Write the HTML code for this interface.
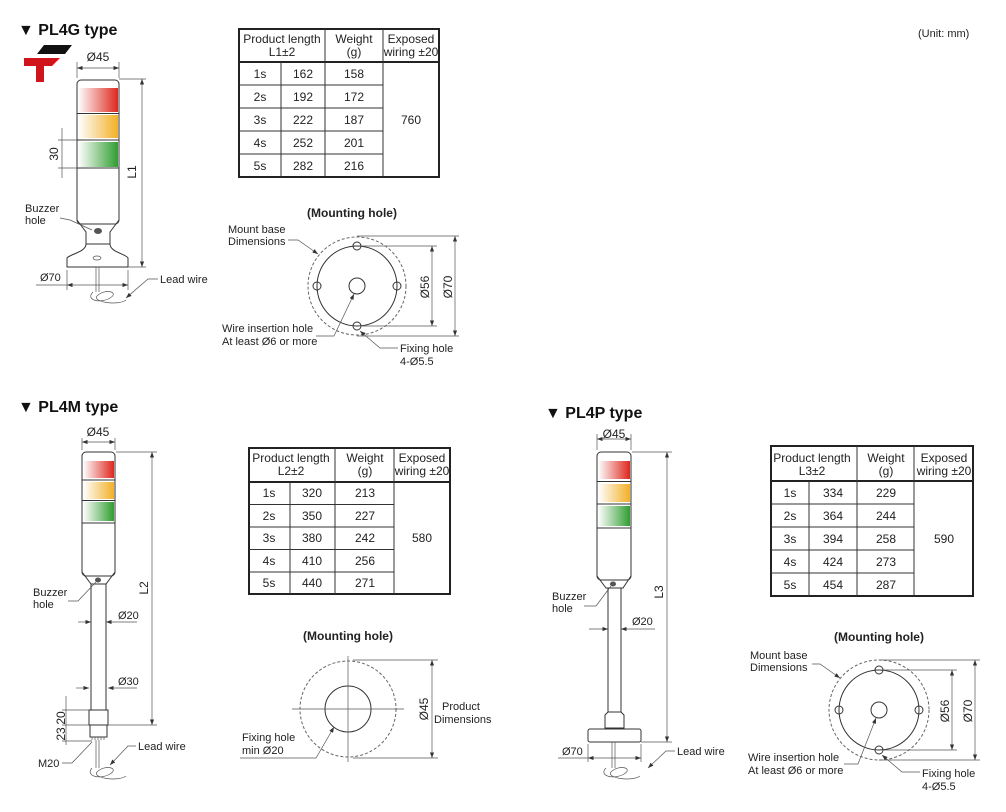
<!DOCTYPE html>
<html><head><meta charset="utf-8"><style>
html,body{margin:0;padding:0;background:#fff;}
svg{display:block;font-family:"Liberation Sans",sans-serif;}
.t{font-size:11px;fill:#222;}
.c{font-size:12px;fill:#222;text-anchor:middle;}
.h{font-size:16px;font-weight:bold;fill:#111;}
.ln{stroke:#333;stroke-width:1;fill:none;}
.thin{stroke:#555;stroke-width:0.7;fill:none;}
.tb{stroke:#333;stroke-width:1;fill:none;}
.tbo{stroke:#222;stroke-width:2;fill:none;}
.dash{stroke:#666;stroke-width:1;fill:none;stroke-dasharray:3,2;}
</style></head><body>
<svg width="1006" height="812" viewBox="0 0 1006 812" xmlns="http://www.w3.org/2000/svg">
<defs>
<linearGradient id="r" x1="0" x2="1"><stop offset="0" stop-color="#fff"/><stop offset="1" stop-color="#e0261c"/></linearGradient>
<linearGradient id="y" x1="0" x2="1"><stop offset="0" stop-color="#fff"/><stop offset="1" stop-color="#f3b024"/></linearGradient>
<linearGradient id="g" x1="0" x2="1"><stop offset="0" stop-color="#fff"/><stop offset="1" stop-color="#2f9e2f"/></linearGradient>
<marker id="a" markerWidth="8" markerHeight="6" refX="8" refY="3" orient="auto"><path d="M0,0L8,3L0,6z" fill="#333"/></marker>
<marker id="b" markerWidth="8" markerHeight="6" refX="0" refY="3" orient="auto"><path d="M8,0L0,3L8,6z" fill="#333"/></marker>
</defs>

<!-- Titles -->
<text x="18" y="35" class="h">▼ PL4G type</text>
<text x="18" y="412" class="h">▼ PL4M type</text>
<text x="545" y="418" class="h">▼ PL4P type</text>
<text x="918" y="37" class="t">(Unit: mm)</text>

<!-- logo -->
<polygon points="44,45 72,45 65,54 37,54" fill="#111"/>
<polygon points="24,58 60,58 52,66 44,66 44,82 36,82 36,66 24,66" fill="#d0141c"/>

<!-- ===== PL4G tower ===== -->
<g>
<rect x="77" y="80" width="42" height="144" rx="4" class="ln" fill="#fff"/>
<rect x="78" y="88" width="40" height="24" fill="url(#r)"/>
<rect x="78" y="115" width="40" height="23" fill="url(#y)"/>
<rect x="78" y="142" width="40" height="25" fill="url(#g)"/>
<line x1="77" y1="113.5" x2="119" y2="113.5" class="ln"/>
<line x1="77" y1="140" x2="119" y2="140" class="ln"/>
<line x1="77" y1="168" x2="119" y2="168" class="ln"/>
<path d="M77,220 L86,232 L86,244 L110,244 L110,232 L119,220" class="ln" fill="#fff"/>
<ellipse cx="98" cy="231" rx="4" ry="3" fill="#555"/>
<path d="M86,244 C86,252 70,254 67,258 L67,267 L128,267 L128,258 C126,254 110,252 110,244" class="ln" fill="#fff"/>
<ellipse cx="97" cy="258" rx="4" ry="2" class="thin"/>
<path d="M96,267 L96,292 M99,267 L99,292 M93,292 C85,300 100,304 110,298 C120,292 105,288 97,296 C92,302 118,306 126,300" class="thin"/>
<!-- dims -->
<line x1="77" y1="78" x2="77" y2="62" class="thin"/><line x1="119" y1="78" x2="119" y2="62" class="thin"/>
<line x1="77" y1="68" x2="119" y2="68" class="thin" marker-start="url(#b)" marker-end="url(#a)"/>
<text x="98" y="61" class="c" font-size="11">Ø45</text>
<line x1="119" y1="79" x2="146" y2="79" class="thin"/><line x1="128" y1="267" x2="146" y2="267" class="thin"/>
<line x1="142" y1="79" x2="142" y2="267" class="thin" marker-start="url(#b)" marker-end="url(#a)"/>
<text transform="translate(136,172) rotate(-90)" class="c" font-size="11">L1</text>
<line x1="58" y1="140" x2="77" y2="140" class="thin"/><line x1="58" y1="168" x2="77" y2="168" class="thin"/>
<line x1="62" y1="128" x2="62" y2="178" class="thin"/>
<text transform="translate(58,154) rotate(-90)" class="c" font-size="11">30</text>
<text x="25" y="212" class="t">Buzzer</text><text x="25" y="224" class="t">hole</text>
<path d="M60,218 L70,220 L92,230" class="thin"/>
<line x1="67" y1="270" x2="67" y2="290" class="thin"/><line x1="128" y1="270" x2="128" y2="290" class="thin"/>
<line x1="36" y1="285" x2="67" y2="285" class="thin"/>
<line x1="67" y1="285" x2="128" y2="285" class="thin" marker-start="url(#b)" marker-end="url(#a)"/>
<text x="40" y="281" class="t">Ø70</text>
<text x="160" y="283" class="t">Lead wire</text>
<path d="M158,279 L148,279 L126,298" class="thin" marker-end="url(#a)"/>
</g>

<!-- ===== Table 1 ===== -->
<g>
<rect x="239" y="29" width="200" height="148" class="tbo"/>
<line x1="239" y1="62" x2="439" y2="62" class="tbo"/>
<line x1="281" y1="62" x2="281" y2="177" class="tb"/>
<line x1="325" y1="29" x2="325" y2="177" class="tb"/>
<line x1="383" y1="29" x2="383" y2="177" class="tb"/>
<line x1="239" y1="85" x2="383" y2="85" class="tb"/><line x1="239" y1="108" x2="383" y2="108" class="tb"/>
<line x1="239" y1="131" x2="383" y2="131" class="tb"/><line x1="239" y1="154" x2="383" y2="154" class="tb"/>
<text x="282" y="43" class="c">Product length</text><text x="282" y="56" class="c">L1±2</text>
<text x="354" y="43" class="c">Weight</text><text x="354" y="56" class="c">(g)</text>
<text x="411" y="43" class="c" font-size="11">Exposed</text><text x="411" y="56" class="c" font-size="11">wiring ±20</text>
<text x="260" y="78" class="c">1s</text><text x="303" y="78" class="c">162</text><text x="354" y="78" class="c">158</text>
<text x="260" y="101" class="c">2s</text><text x="303" y="101" class="c">192</text><text x="354" y="101" class="c">172</text>
<text x="260" y="124" class="c">3s</text><text x="303" y="124" class="c">222</text><text x="354" y="124" class="c">187</text>
<text x="260" y="147" class="c">4s</text><text x="303" y="147" class="c">252</text><text x="354" y="147" class="c">201</text>
<text x="260" y="170" class="c">5s</text><text x="303" y="170" class="c">282</text><text x="354" y="170" class="c">216</text>
<text x="411" y="124" class="c">760</text>
</g>

<!-- ===== Mounting hole 1 ===== -->
<g>
<text x="352" y="217" class="c" font-size="14" font-weight="bold">(Mounting hole)</text>
<circle cx="357" cy="286" r="49" class="dash"/>
<circle cx="357" cy="286" r="40" class="ln"/>
<circle cx="357" cy="286" r="8" class="ln" stroke-width="1.5"/>
<circle cx="357" cy="246" r="4" class="ln" fill="#fff" stroke-width="1.5"/>
<circle cx="357" cy="326" r="4" class="ln" fill="#fff" stroke-width="1.5"/>
<circle cx="317" cy="286" r="4" class="ln" fill="#fff" stroke-width="1.5"/>
<circle cx="397" cy="286" r="4" class="ln" fill="#fff" stroke-width="1.5"/>
<line x1="361" y1="246" x2="437" y2="246" class="thin"/><line x1="361" y1="326" x2="437" y2="326" class="thin"/>
<line x1="432" y1="246" x2="432" y2="326" class="thin" marker-start="url(#b)" marker-end="url(#a)"/>
<line x1="357" y1="236" x2="459" y2="236" class="thin"/><line x1="357" y1="336" x2="459" y2="336" class="thin"/>
<line x1="455" y1="236" x2="455" y2="336" class="thin" marker-start="url(#b)" marker-end="url(#a)"/>
<text transform="translate(429,287) rotate(-90)" class="c" font-size="11">Ø56</text>
<text transform="translate(452,287) rotate(-90)" class="c" font-size="11">Ø70</text>
<text x="228" y="233" class="t">Mount base</text><text x="228" y="245" class="t">Dimensions</text>
<path d="M288,240 L298,240 L318,254" class="thin" marker-end="url(#a)"/>
<text x="222" y="332" class="t">Wire insertion hole</text><text x="222" y="345" class="t">At least Ø6 or more</text>
<path d="M316,336 L334,336 L354,294" class="thin" marker-end="url(#a)"/>
<text x="400" y="352" class="t">Fixing hole</text><text x="400" y="365" class="t">4-Ø5.5</text>
<path d="M398,348 L380,348 L360,331" class="thin" marker-end="url(#a)"/>
</g>

<!-- ===== PL4M tower ===== -->
<g>
<rect x="82" y="452" width="33" height="124" rx="4" class="ln" fill="#fff"/>
<rect x="83" y="461" width="31" height="17" fill="url(#r)"/>
<rect x="83" y="482" width="31" height="17" fill="url(#y)"/>
<rect x="83" y="502" width="31" height="19" fill="url(#g)"/>
<line x1="82" y1="480" x2="115" y2="480" class="ln"/><line x1="82" y1="500.5" x2="115" y2="500.5" class="ln"/><line x1="82" y1="523" x2="115" y2="523" class="ln"/>
<path d="M82,572 L91,584 L106,584 L115,572" class="ln" fill="#fff"/>
<ellipse cx="98" cy="580" rx="3" ry="2.5" fill="#555"/>
<rect x="91" y="584" width="15" height="126" class="ln" fill="#fff"/>
<rect x="89" y="710" width="19" height="15" class="ln" fill="#fff"/>
<rect x="90" y="725" width="17" height="12" class="ln" fill="#fff"/>
<path d="M92,737 L92,740 M95,737 L95,740 M98,737 L98,740 M101,737 L101,740 M104,737 L104,740" class="thin"/>
<path d="M96,740 L96,768 M99,740 L99,768 M92,768 C85,776 100,780 110,774 C120,768 105,764 97,772 C92,778 118,782 126,776" class="thin"/>
<line x1="82" y1="450" x2="82" y2="438" class="thin"/><line x1="115" y1="450" x2="115" y2="438" class="thin"/>
<line x1="82" y1="442" x2="115" y2="442" class="thin" marker-start="url(#b)" marker-end="url(#a)"/>
<text x="98" y="436" class="c" font-size="11">Ø45</text>
<line x1="116" y1="452" x2="157" y2="452" class="thin"/><line x1="108" y1="725" x2="157" y2="725" class="thin"/>
<line x1="152" y1="452" x2="152" y2="725" class="thin" marker-start="url(#b)" marker-end="url(#a)"/>
<text transform="translate(148,588) rotate(-90)" class="c" font-size="11">L2</text>
<line x1="78" y1="622" x2="91" y2="622" class="thin" marker-end="url(#a)"/>
<line x1="106" y1="622" x2="137" y2="622" class="thin" marker-start="url(#b)"/>
<text x="118" y="619" class="t">Ø20</text>
<line x1="76" y1="688" x2="89" y2="688" class="thin" marker-end="url(#a)"/>
<line x1="108" y1="688" x2="137" y2="688" class="thin" marker-start="url(#b)"/>
<text x="118" y="685" class="t">Ø30</text>
<line x1="62" y1="710" x2="89" y2="710" class="thin"/><line x1="62" y1="725" x2="89" y2="725" class="thin"/><line x1="62" y1="741" x2="92" y2="741" class="thin"/>
<line x1="66" y1="696" x2="66" y2="745" class="thin"/>
<text transform="translate(65,718) rotate(-90)" class="c" font-size="11">20</text>
<text transform="translate(65,734) rotate(-90)" class="c" font-size="11">23</text>
<text x="33" y="596" class="t">Buzzer</text><text x="33" y="608" class="t">hole</text>
<path d="M68,601 L78,601 L96,582" class="thin"/>
<text x="38" y="767" class="t">M20</text>
<path d="M62,763 L72,763 L92,742" class="thin"/>
<text x="138" y="750" class="t">Lead wire</text>
<path d="M136,746 L128,746 L110,765" class="thin" marker-end="url(#a)"/>
</g>

<!-- ===== Table 2 ===== -->
<g>
<rect x="249" y="448" width="201" height="146" class="tbo"/>
<line x1="249" y1="482" x2="450" y2="482" class="tbo"/>
<line x1="290" y1="482" x2="290" y2="594" class="tb"/>
<line x1="335" y1="448" x2="335" y2="594" class="tb"/>
<line x1="394" y1="448" x2="394" y2="594" class="tb"/>
<line x1="249" y1="504.5" x2="394" y2="504.5" class="tb"/><line x1="249" y1="527" x2="394" y2="527" class="tb"/>
<line x1="249" y1="549.5" x2="394" y2="549.5" class="tb"/><line x1="249" y1="572" x2="394" y2="572" class="tb"/>
<text x="291" y="462" class="c">Product length</text><text x="291" y="475" class="c">L2±2</text>
<text x="365" y="462" class="c">Weight</text><text x="365" y="475" class="c">(g)</text>
<text x="422" y="462" class="c" font-size="11">Exposed</text><text x="422" y="475" class="c" font-size="11">wiring ±20</text>
<text x="269" y="497" class="c">1s</text><text x="312" y="497" class="c">320</text><text x="365" y="497" class="c">213</text>
<text x="269" y="520" class="c">2s</text><text x="312" y="520" class="c">350</text><text x="365" y="520" class="c">227</text>
<text x="269" y="542" class="c">3s</text><text x="312" y="542" class="c">380</text><text x="365" y="542" class="c">242</text>
<text x="269" y="565" class="c">4s</text><text x="312" y="565" class="c">410</text><text x="365" y="565" class="c">256</text>
<text x="269" y="587" class="c">5s</text><text x="312" y="587" class="c">440</text><text x="365" y="587" class="c">271</text>
<text x="422" y="542" class="c">580</text>
</g>

<!-- ===== Mounting hole 2 ===== -->
<g>
<text x="348" y="640" class="c" font-size="14" font-weight="bold">(Mounting hole)</text>
<circle cx="348" cy="709" r="48" class="dash"/>
<circle cx="348" cy="709" r="23" class="ln" stroke-width="1.3"/>
<line x1="348" y1="656" x2="348" y2="762" class="thin"/>
<line x1="292" y1="709" x2="404" y2="709" class="thin"/>
<line x1="353" y1="660" x2="438" y2="660" class="thin"/><line x1="353" y1="758" x2="438" y2="758" class="thin"/>
<line x1="432" y1="660" x2="432" y2="758" class="thin" marker-start="url(#b)" marker-end="url(#a)"/>
<text transform="translate(428,709) rotate(-90)" class="c" font-size="11">Ø45</text>
<text x="442" y="710" class="t">Product</text><text x="434" y="723" class="t">Dimensions</text>
<text x="242" y="741" class="t">Fixing hole</text><text x="242" y="754" class="t">min Ø20</text>
<path d="M240,758 L316,758 L334,727" class="thin" marker-end="url(#a)"/>
</g>

<!-- ===== PL4P tower ===== -->
<g>
<rect x="597" y="452" width="34" height="128" rx="4" class="ln" fill="#fff"/>
<rect x="598" y="461" width="32" height="18" fill="url(#r)"/>
<rect x="598" y="484" width="32" height="18" fill="url(#y)"/>
<rect x="598" y="506" width="32" height="20" fill="url(#g)"/>
<line x1="597" y1="481.5" x2="631" y2="481.5" class="ln"/><line x1="597" y1="504" x2="631" y2="504" class="ln"/><line x1="597" y1="528" x2="631" y2="528" class="ln"/>
<path d="M597,576 L606,588 L623,588 L631,576" class="ln" fill="#fff"/>
<ellipse cx="613" cy="584" rx="3" ry="2.5" fill="#555"/>
<rect x="608" y="588" width="13" height="124" class="ln" fill="#fff"/>
<path d="M608,712 L605,715 L605,728 L624,728 L624,715 L621,712" class="ln" fill="#fff"/>
<rect x="588" y="729" width="53" height="13" rx="2" class="ln" fill="#fff"/>
<path d="M612,742 L612,768 M615,742 L615,768 M606,768 C598,776 614,780 624,774 C634,768 619,764 611,772 C606,778 632,782 640,776" class="thin"/>
<line x1="597" y1="450" x2="597" y2="434" class="thin"/><line x1="631" y1="450" x2="631" y2="434" class="thin"/>
<line x1="597" y1="439" x2="631" y2="439" class="thin" marker-start="url(#b)" marker-end="url(#a)"/>
<text x="614" y="438" class="c" font-size="11">Ø45</text>
<line x1="632" y1="452" x2="672" y2="452" class="thin"/><line x1="641" y1="742" x2="672" y2="742" class="thin"/>
<line x1="667" y1="452" x2="667" y2="742" class="thin" marker-start="url(#b)" marker-end="url(#a)"/>
<text transform="translate(663,592) rotate(-90)" class="c" font-size="11">L3</text>
<line x1="589" y1="629" x2="608" y2="629" class="thin" marker-end="url(#a)"/>
<line x1="621" y1="629" x2="655" y2="629" class="thin" marker-start="url(#b)"/>
<text x="632" y="625" class="t">Ø20</text>
<text x="552" y="600" class="t">Buzzer</text><text x="552" y="612" class="t">hole</text>
<path d="M584,606 L596,606 L611,586" class="thin"/>
<line x1="588" y1="744" x2="588" y2="762" class="thin"/><line x1="641" y1="744" x2="641" y2="762" class="thin"/>
<line x1="558" y1="758" x2="588" y2="758" class="thin"/>
<line x1="588" y1="758" x2="641" y2="758" class="thin" marker-start="url(#b)" marker-end="url(#a)"/>
<text x="562" y="755" class="t">Ø70</text>
<text x="677" y="755" class="t">Lead wire</text>
<path d="M675,751 L666,751 L648,768" class="thin" marker-end="url(#a)"/>
</g>

<!-- ===== Table 3 ===== -->
<g>
<rect x="771" y="446" width="202" height="150" class="tbo"/>
<line x1="771" y1="481" x2="973" y2="481" class="tbo"/>
<line x1="809" y1="481" x2="809" y2="596" class="tb"/>
<line x1="857" y1="446" x2="857" y2="596" class="tb"/>
<line x1="914" y1="446" x2="914" y2="596" class="tb"/>
<line x1="771" y1="504" x2="914" y2="504" class="tb"/><line x1="771" y1="527" x2="914" y2="527" class="tb"/>
<line x1="771" y1="550" x2="914" y2="550" class="tb"/><line x1="771" y1="573" x2="914" y2="573" class="tb"/>
<text x="812" y="462" class="c">Product length</text><text x="812" y="475" class="c">L3±2</text>
<text x="886" y="462" class="c">Weight</text><text x="886" y="475" class="c">(g)</text>
<text x="944" y="462" class="c" font-size="11">Exposed</text><text x="944" y="475" class="c" font-size="11">wiring ±20</text>
<text x="790" y="497" class="c">1s</text><text x="833" y="497" class="c">334</text><text x="886" y="497" class="c">229</text>
<text x="790" y="520" class="c">2s</text><text x="833" y="520" class="c">364</text><text x="886" y="520" class="c">244</text>
<text x="790" y="543" class="c">3s</text><text x="833" y="543" class="c">394</text><text x="886" y="543" class="c">258</text>
<text x="790" y="566" class="c">4s</text><text x="833" y="566" class="c">424</text><text x="886" y="566" class="c">273</text>
<text x="790" y="589" class="c">5s</text><text x="833" y="589" class="c">454</text><text x="886" y="589" class="c">287</text>
<text x="944" y="543" class="c">590</text>
</g>

<!-- ===== Mounting hole 3 ===== -->
<g>
<text x="879" y="641" class="c" font-size="14" font-weight="bold">(Mounting hole)</text>
<circle cx="879" cy="710" r="50" class="dash"/>
<circle cx="879" cy="710" r="40" class="ln"/>
<circle cx="879" cy="710" r="8" class="ln" stroke-width="1.5"/>
<circle cx="879" cy="670" r="4" class="ln" fill="#fff" stroke-width="1.5"/>
<circle cx="879" cy="750" r="4" class="ln" fill="#fff" stroke-width="1.5"/>
<circle cx="839" cy="710" r="4" class="ln" fill="#fff" stroke-width="1.5"/>
<circle cx="919" cy="710" r="4" class="ln" fill="#fff" stroke-width="1.5"/>
<line x1="883" y1="670" x2="957" y2="670" class="thin"/><line x1="883" y1="750" x2="957" y2="750" class="thin"/>
<line x1="952" y1="670" x2="952" y2="750" class="thin" marker-start="url(#b)" marker-end="url(#a)"/>
<line x1="879" y1="660" x2="980" y2="660" class="thin"/><line x1="879" y1="760" x2="980" y2="760" class="thin"/>
<line x1="975" y1="660" x2="975" y2="760" class="thin" marker-start="url(#b)" marker-end="url(#a)"/>
<text transform="translate(949,711) rotate(-90)" class="c" font-size="11">Ø56</text>
<text transform="translate(972,711) rotate(-90)" class="c" font-size="11">Ø70</text>
<text x="750" y="659" class="t">Mount base</text><text x="750" y="671" class="t">Dimensions</text>
<path d="M812,664 L820,664 L840,678" class="thin" marker-end="url(#a)"/>
<text x="748" y="761" class="t">Wire insertion hole</text><text x="748" y="774" class="t">At least Ø6 or more</text>
<path d="M844,764 L858,764 L876,718" class="thin" marker-end="url(#a)"/>
<text x="922" y="777" class="t">Fixing hole</text><text x="922" y="790" class="t">4-Ø5.5</text>
<path d="M920,772 L902,772 L882,755" class="thin" marker-end="url(#a)"/>
</g>
</svg>
</body></html>
